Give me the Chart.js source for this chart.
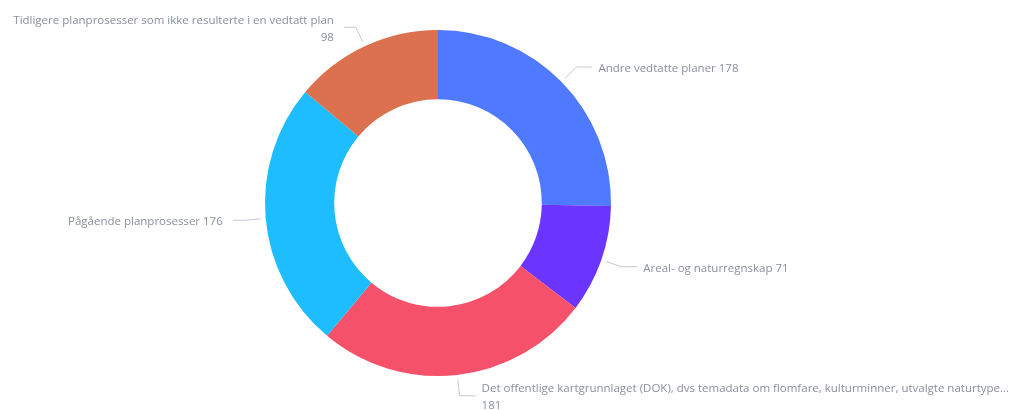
<!DOCTYPE html>
<html>
<head>
<meta charset="utf-8">
<script src="https://cdn.jsdelivr.net/npm/chart.js@4"></script>
<style>
  html, body { margin: 0; padding: 0; background: #ffffff; }
  #wrap { width: 1019px; height: 410px; position: relative; }
</style>
</head>
<body>
<div id="wrap"><canvas id="donut"></canvas></div>
<script>
// Data
const categories = [
    'Andre vedtatte planer',
    'Areal- og naturregnskap',
    'Det offentlige kartgrunnlaget (DOK), dvs temadata om flomfare, kulturminner, utvalgte naturtype...',
    'Pågående planprosesser',
    'Tidligere planprosesser som ikke resulterte i en vedtatt plan'
];
const values = [178, 71, 181, 176, 98];
const colors = ['#4f79ff', '#6b34ff', '#f5516a', '#1ebdff', '#db714e'];

const labelFont = '11.5px "Open Sans", sans-serif';
const labelColor = '#8a8f9b';
const lineColor = '#c5c9d0';

// draws the outside labels with elbow leader lines
const outsideLabels = {
    id: 'outsideLabels',
    afterDraw(chart) {
        const ctx = chart.ctx;
        const meta = chart.getDatasetMeta(0);
        const W = chart.width;
        ctx.save();
        ctx.font = labelFont;
        ctx.textBaseline = 'middle';
        meta.data.forEach((arc, i) => {
            const p = arc.getProps(['x', 'y', 'startAngle', 'endAngle', 'outerRadius'], true);
            const mid = (p.startAngle + p.endAngle) / 2;
            const cos = Math.cos(mid), sin = Math.sin(mid);
            const x0 = p.x + cos * (p.outerRadius + 5), y0 = p.y + sin * (p.outerRadius + 5);
            const x1 = p.x + cos * (p.outerRadius + 21), y1 = p.y + sin * (p.outerRadius + 21);
            const right = cos >= 0;
            const x2 = x1 + (right ? 16 : -12);

            ctx.strokeStyle = lineColor;
            ctx.lineWidth = 1;
            ctx.beginPath();
            ctx.moveTo(x0, y0);
            ctx.lineTo(x1, y1);
            ctx.lineTo(x2, y1);
            ctx.stroke();

            const tx = x2 + (right ? 6 : -10);
            const avail = right ? W - tx - 4 : tx - 4;
            const one = categories[i] + ' ' + values[i];
            ctx.fillStyle = labelColor;
            ctx.textAlign = right ? 'left' : 'right';
            if (ctx.measureText(one).width <= avail) {
                ctx.fillText(one, tx, y1 + 1.5);
            } else {
                let name = categories[i];
                if (ctx.measureText(name).width > avail) {
                    name = name.replace(/\.\.\.$/, '');
                    while (name.length && ctx.measureText(name + '...').width > avail) name = name.slice(0, -1);
                    name += '...';
                }
                ctx.fillText(name, tx, y1 - 7);
                ctx.fillText(String(values[i]), tx, y1 + 10);
            }
        });
        ctx.restore();
    }
};

new Chart(document.getElementById('donut'), {
    type: 'doughnut',
    data: {
        labels: categories,
        datasets: [{
            data: values,
            backgroundColor: colors,
            borderWidth: 0
        }]
    },
    options: {
        responsive: true,
        maintainAspectRatio: false,
        animation: false,
        cutout: '60%',
        layout: { padding: { top: 30, bottom: 34, left: 0, right: 143 } },
        plugins: {
            legend: { display: false },
            tooltip: { enabled: false }
        }
    },
    plugins: [outsideLabels]
});
</script>
</body>
</html>
